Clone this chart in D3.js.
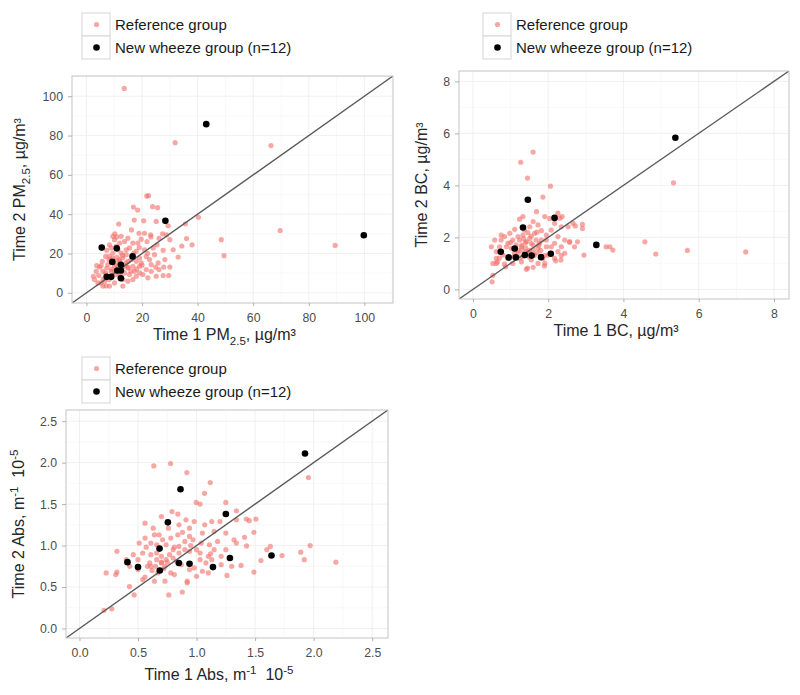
<!DOCTYPE html>
<html><head><meta charset="utf-8">
<script src="https://cdn.jsdelivr.net/npm/d3@7"></script>
<style>body{margin:0;background:#fff;} text{font-family:"Liberation Sans",Arial,sans-serif;}</style>
</head><body><svg id="c" width="800" height="695"></svg>
<script>
// ---------- DATA ----------
const legendLabels = ["Reference group", "New wheeze group (n=12)"];

// PM2.5 (µg/m³): [Time 1, Time 2]
const pmRef = [
[13.6,104],[31.9,76.4],[66.4,74.9],[69.7,31.7],[89.5,24.1],[48.5,27],[49.5,18.9],[40.3,38.4],[36,27.6],[35.6,35.1],
[34.3,23.8],[38,24.4],[29.6,8.8],[21.7,49.2],[22.3,49.4],[16.9,43.6],[18.4,42.1],[23.8,43.8],[25.6,43.3],[17.2,37],
[20.6,36.6],[11.6,35],[16.2,32],[10.2,30],[10.9,28.4],[23.2,28.4],[26.1,27.7],[27.4,30],[29.4,34.1],[25.1,36.3],
[18.9,30.3],[23.1,29.5],[30.0,27.0],[25.4,24.4],[14.9,27.8],[13.7,26.1],[11.9,25.3],[8.3,24.4],[7.3,21.6],[9.5,20.2],
[12.5,20.2],[14.3,19.4],[17.9,21.1],[20.9,21.9],[24.0,22.8],[27.6,21.6],[24.5,19.4],[19.1,17.7],[22.7,16.9],[25.8,15.2],
[28.2,16.9],[30.0,13.1],[6.9,18.5],[5.7,16.0],[7.7,14.3],[10.1,13.5],[14.3,15.2],[16.7,13.5],[19.1,13.5],[21.5,11.8],
[23.3,10.9],[13.7,10.1],[15.5,9.3],[17.9,8.4],[20.3,9.3],[4.7,13.1],[3.5,10.9],[5.9,10.9],[2.5,8.4],[4.4,8.8],
[6.5,5.9],[8.3,3.4],[10.1,5.0],[13.1,6.7],[14.9,5.9],[16.7,6.7],[22.1,7.6],[25.1,8.4],[5.9,3.4],[4.1,5.0],
[10.7,9.3],[8.9,10.9],[7.3,12.6],[11.7,16.9],[13.1,17.7],[16.1,16.9],[17.9,16.0],[19.7,15.2],[9.5,17.7],[8.1,16.9],
[5.3,13.8],[3.7,13.8],[10.7,23.6],[15.5,22.8],[16.7,25.3],[18.5,25.3],[21.8,26.1],[19.7,27.3],[24.9,13.1],[27.8,13.1],
[21.5,18.5],[8.3,18.5],[11.9,15.2],[14.9,12.6],[17.3,10.9],[14.3,21.9],[11.3,21.9],[8.9,22.8],[6.9,10.1],[8.1,6.7],
[9.3,8.8],[11.9,8.4],[2.9,6.7],[19.1,10.1],[23.3,14.3],[26.1,11.8],[27.6,8.8],[12.5,28.7],[10.1,27.0],[20.9,30.3],
[28.8,29.5],[31.2,21.9],[33.0,18.2],[13.1,3.4],[9.5,28.7],[11,14],[12,16],[13,13],[10,11],[9,12],
[12,10],[14,14],[15,16],[13,19],[11,18],[10,16],[16,11],[15,13],[7,9],[6,7],
[18,12],[20,14],[22,20],[17,20],[19,23],[7.1,3.5],[5.3,5.0]
];
const pmNew = [[5.5,23],[10.9,22.6],[9.3,15.7],[16.6,18.5],[12.4,14.2],[11.1,11.3],[12.4,11.3],[7.3,8.1],[8.9,8.1],[12.4,7.4],[28.4,36.6],[43.1,85.8],[99.8,29.3]];

// BC (µg/m³)
const bcRef = [
[1.60,5.28],[1.27,4.89],[1.45,4.28],[2.06,3.97],[1.86,3.55],[5.33,4.10],[4.57,1.83],[4.86,1.36],[5.70,1.50],[7.25,1.44],
[3.72,1.51],[3.54,1.64],[3.64,1.64],[2.95,1.32],[2.91,2.50],[2.91,2.34],[2.72,2.44],[2.78,1.83],[2.57,1.81],[2.31,2.74],
[2.37,2.80],[2.34,1.13],[0.53,0.54],[0.51,0.29],[0.62,1.0],[0.87,0.87],[1.69,2.99],[1.42,0.77],
[1.91,2.80],[1.24,2.70],[1.33,2.80],[2.04,2.73],[2.26,2.93],[2.17,2.54],[2.35,2.41],[1.73,2.48],[1.60,2.61],[1.51,2.41],
[1.11,2.31],[0.98,2.16],[0.84,2.03],[0.75,1.90],[1.06,1.90],[1.20,2.03],[1.33,2.09],[1.46,2.18],[1.64,2.16],[1.82,2.26],
[1.95,2.09],[2.08,2.28],[2.26,2.03],[2.44,1.90],[2.57,1.84],[2.17,1.77],[2.35,1.64],[1.82,1.90],[1.68,1.90],[1.55,1.77],
[1.42,1.84],[1.29,1.64],[1.15,1.71],[1.02,1.58],[0.89,1.64],[0.71,1.64],[0.62,1.45],[0.80,1.32],[0.93,1.19],[1.20,1.39],
[1.42,1.45],[1.60,1.51],[1.73,1.58],[1.95,1.64],[1.99,1.32],[1.86,1.19],[2.17,1.19],[1.55,1.13],[1.29,1.06],[1.06,1.00],
[0.84,0.97],[0.62,1.19],[0.53,1.00],[1.73,1.00],[1.91,1.00],[1.64,1.32],[1.33,1.26],[1.11,1.26],[1.24,1.90],[1.51,1.96],
[2.08,1.64],[2.26,1.45],[2.44,1.39],[2.70,1.64],[2.53,2.41],[2.66,2.54],[1.37,2.28],[0.93,1.77],[0.75,2.09],[0.58,1.90],
[0.49,1.64],[1.77,1.77],[1.95,1.90],[1.40,1.60],[1.50,1.50],[1.30,1.50],[1.60,1.70],[1.70,1.40],[1.20,1.50],[1.50,1.40],
[1.40,1.80],[1.60,1.30],[1.30,1.70],[1.80,1.50],[1.10,1.40],[1.45,0.82],[1.60,0.85],[1.90,0.90],[2.20,1.10],[0.70,1.20],
[0.65,1.05],[2.35,1.30],[1.90,1.30],[1.35,1.95],[1.55,2.05],[1.70,2.20],[1.25,1.20],[1.50,1.25],[1.75,1.70],[1.00,1.80]
];
const bcNew = [[5.38,5.83],[1.46,3.45],[2.17,2.75],[1.33,2.38],[0.74,1.45],[1.11,1.57],[0.95,1.23],[1.14,1.23],[1.38,1.32],[1.56,1.30],[1.81,1.24],[2.07,1.37],[3.28,1.71]];

// Absorbance (m⁻¹ 10⁻⁵)
const absRef = [
[0.635,1.96],[0.778,1.99],[0.917,1.88],[1.117,1.76],[1.068,1.63],[0.997,1.52],[1.03,1.50],[1.25,1.52],[1.34,1.42],[1.507,1.32],
[1.425,1.32],[1.49,1.16],[1.427,0.995],[1.63,0.99],[1.73,0.88],[1.89,0.92],[1.92,0.83],[1.97,1.00],[1.955,1.82],[2.19,0.80],
[1.49,0.68],[1.26,0.64],[1.38,0.76],[0.228,0.67],[0.32,0.68],[0.32,0.93],[0.276,0.237],[0.21,0.22],[0.467,0.405],[0.427,0.505],
[0.763,0.405],[0.878,0.44],[0.92,0.55],
[0.79,1.41],[0.84,1.38],[0.70,1.35],[0.91,1.31],[0.98,1.29],[0.85,1.25],[0.76,1.21],[0.63,1.21],[0.56,1.27],[0.94,1.21],
[1.07,1.25],[1.13,1.29],[1.20,1.29],[1.34,1.31],[1.25,1.15],[1.32,1.07],[1.41,1.10],[1.15,1.17],[1.05,1.15],[0.94,1.11],
[0.84,1.13],[0.78,1.09],[0.71,1.07],[0.64,1.13],[0.56,1.09],[0.51,1.03],[0.57,0.98],[0.66,1.01],[0.74,1.01],[0.81,0.98],
[0.90,1.05],[0.97,1.07],[1.04,1.03],[1.11,1.01],[1.15,0.95],[1.25,0.95],[1.34,1.03],[0.54,0.91],[0.61,0.89],[0.70,0.87],
[0.77,0.89],[0.85,0.91],[0.94,0.93],[1.03,0.91],[1.10,0.87],[1.21,0.87],[0.46,0.89],[0.40,0.83],[0.43,0.75],[0.50,0.71],
[0.58,0.75],[0.66,0.83],[0.60,0.79],[0.73,0.75],[0.78,0.67],[0.87,0.77],[0.94,0.71],[1.00,0.63],[1.08,0.79],[1.21,0.77],
[1.30,0.75],[0.83,0.81],[0.67,0.67],[0.56,0.62],[0.64,0.57],[0.73,0.57],[0.81,0.65],[0.92,0.57],[0.98,0.73],[1.05,0.69],
[0.31,0.65],[1.10,0.67],[0.54,0.59],[0.61,0.75],[0.70,0.79],[0.50,0.83],[0.66,0.91],[0.74,0.83],[0.80,0.95],
[0.61,1.03],[0.68,1.13],[0.85,0.99],[1.03,0.83],[1.13,0.83],[0.65,0.75],[0.70,0.80],[0.75,0.80],[0.80,0.85],[0.90,0.95],
[0.95,1.00],[1.00,0.95],[0.62,0.70],[0.72,0.72],[1.60,0.95],[1.45,1.30],[1.55,0.82],[1.12,0.90],[1.18,1.05],[0.88,1.16]
];
const absNew = [[1.926,2.11],[0.863,1.68],[1.25,1.38],[0.755,1.28],[0.684,0.963],[0.41,0.80],[0.50,0.74],[0.686,0.70],[0.849,0.79],[0.94,0.78],[1.14,0.74],[1.285,0.85],[1.64,0.88]];

// Axis ticks
const pmTicks = [0,20,40,60,80,100];
const pmMinor = [10,30,50,70,90,110];
const bcTicks = [0,2,4,6,8];
const bcMinor = [1,3,5,7];
const absTicks = [0,0.5,1,1.5,2,2.5];
const absMinor = [0.25,0.75,1.25,1.75,2.25];

// ---------- LAYOUT ----------
const svg = d3.select("#c");
const panels = [
  {ref:pmRef, nw:pmNew, domain:[-5.2,110.3], ticks:pmTicks, minor:pmMinor, fmt:d3.format("d"),
   box:[72,76,393,303], legend:[82,13], xOff:37, yOff:47,
   xTitle:[["Time 1 PM"],["2.5","sub"],[", µg/m³"]], yTitle:[["Time 2 PM"],["2.5","sub"],[", µg/m³"]]},
  {ref:bcRef, nw:bcNew, domain:[-0.37,8.4], ticks:bcTicks, minor:bcMinor, fmt:d3.format("d"),
   box:[459,71,789,299], legend:[483,13], xOff:37, yOff:32,
   xTitle:[["Time 1 BC, µg/m³"]], yTitle:[["Time 2 BC, µg/m³"]]},
  {ref:absRef, nw:absNew, domain:[-0.115,2.635], ticks:absTicks, minor:absMinor, fmt:d3.format(".1f"),
   box:[66,410,388,638], legend:[82,357], xOff:42, yOff:42,
   xTitle:[["Time 1 Abs, m"],["-1","sup"],["  10"],["-5","sup"]], yTitle:[["Time 2 Abs, m"],["-1","sup"],["  10"],["-5","sup"]]}
];

function rich(sel, parts, fs){
  let shift = 0;
  parts.forEach(([s,k])=>{
    const ts = sel.append("tspan").text(s);
    let target = 0;
    if(k==="sub"){ target = fs*0.3; ts.attr("font-size", fs*0.72); }
    if(k==="sup"){ target = -fs*0.38; ts.attr("font-size", fs*0.72); }
    if(target!==shift){ ts.attr("dy", target-shift); shift = target; }
  });
}

const refFill = "rgba(242,110,104,0.6)";
const defs = svg.append("defs");
panels.forEach((p,i)=>{
  const [l,t,r,b] = p.box;
  const x = d3.scaleLinear().domain(p.domain).range([l,r]);
  const y = d3.scaleLinear().domain(p.domain).range([b,t]);
  const g = svg.append("g");
  defs.append("clipPath").attr("id","clip"+i).append("rect").attr("x",l).attr("y",t).attr("width",r-l).attr("height",b-t);

  g.append("rect").attr("x",l).attr("y",t).attr("width",r-l).attr("height",b-t).attr("fill","#fff");
  const grid = g.append("g").attr("clip-path",`url(#clip${i})`);
  [[p.minor,"#f5f5f5",0.6],[p.ticks,"#ececec",0.8]].forEach(([vals,col,w])=>{
    grid.selectAll(null).data(vals).join("line")
      .attr("x1",d=>x(d)).attr("x2",d=>x(d)).attr("y1",t).attr("y2",b).attr("stroke",col).attr("stroke-width",w);
    grid.selectAll(null).data(vals).join("line")
      .attr("y1",d=>y(d)).attr("y2",d=>y(d)).attr("x1",l).attr("x2",r).attr("stroke",col).attr("stroke-width",w);
  });

  const marks = g.append("g").attr("clip-path",`url(#clip${i})`);
  marks.selectAll(null).data(p.ref).join("circle")
    .attr("cx",d=>x(d[0])).attr("cy",d=>y(d[1])).attr("r",2.6)
    .attr("fill",refFill);
  marks.append("line")
    .attr("x1",x(p.domain[0])).attr("y1",y(p.domain[0]))
    .attr("x2",x(p.domain[1])).attr("y2",y(p.domain[1]))
    .attr("stroke","#5a5a5a").attr("stroke-width",1.4);
  marks.selectAll(null).data(p.nw).join("circle")
    .attr("cx",d=>x(d[0])).attr("cy",d=>y(d[1])).attr("r",3.3).attr("fill","#000");

  g.append("rect").attr("x",l).attr("y",t).attr("width",r-l).attr("height",b-t)
    .attr("fill","none").attr("stroke","#c4c4c4").attr("stroke-width",1);

  const xa = g.append("g").attr("transform",`translate(0,${b})`)
    .call(d3.axisBottom(x).tickValues(p.ticks).tickFormat(p.fmt).tickSize(3).tickPadding(7));
  const ya = g.append("g").attr("transform",`translate(${l},0)`)
    .call(d3.axisLeft(y).tickValues(p.ticks).tickFormat(p.fmt).tickSize(4).tickPadding(5));
  [xa,ya].forEach(a=>{
    a.select(".domain").remove();
    a.selectAll("line").attr("stroke","#b0b0b0");
    a.selectAll("text").attr("fill","#4d4d4d").attr("font-size",12.3)
      .attr("font-family","'Liberation Sans',Arial,sans-serif");
  });

  const fs = 16;
  const xt = g.append("text").attr("x",(l+r)/2 - 8).attr("y",b+p.xOff).attr("text-anchor","middle")
    .attr("font-size",fs).attr("fill","#262626").style("white-space","pre");
  rich(xt, p.xTitle, fs);
  const yt = g.append("text").attr("transform",`translate(${l-p.yOff},${(t+b)/2}) rotate(-90)`)
    .attr("text-anchor","middle").attr("font-size",fs).attr("fill","#262626").style("white-space","pre");
  rich(yt, p.yTitle, fs);

  // legend
  const [lx,ly] = p.legend;
  const lg = g.append("g");
  const rowH = 23;
  legendLabels.forEach((lab,k)=>{
    lg.append("rect").attr("x",lx).attr("y",ly+k*rowH).attr("width",28).attr("height",rowH)
      .attr("fill","#fff").attr("stroke","#d6d6d6").attr("stroke-width",1);
    lg.append("circle").attr("cx",lx+14.5).attr("cy",ly+k*rowH+rowH/2)
      .attr("r",k===0?2.6:3.3).attr("fill",k===0?refFill:"#000");
    lg.append("text").attr("x",lx+33).attr("y",ly+k*rowH+rowH/2+5.5)
      .attr("font-size",15).attr("fill","#1a1a1a").text(lab);
  });
});
</script></body></html>
